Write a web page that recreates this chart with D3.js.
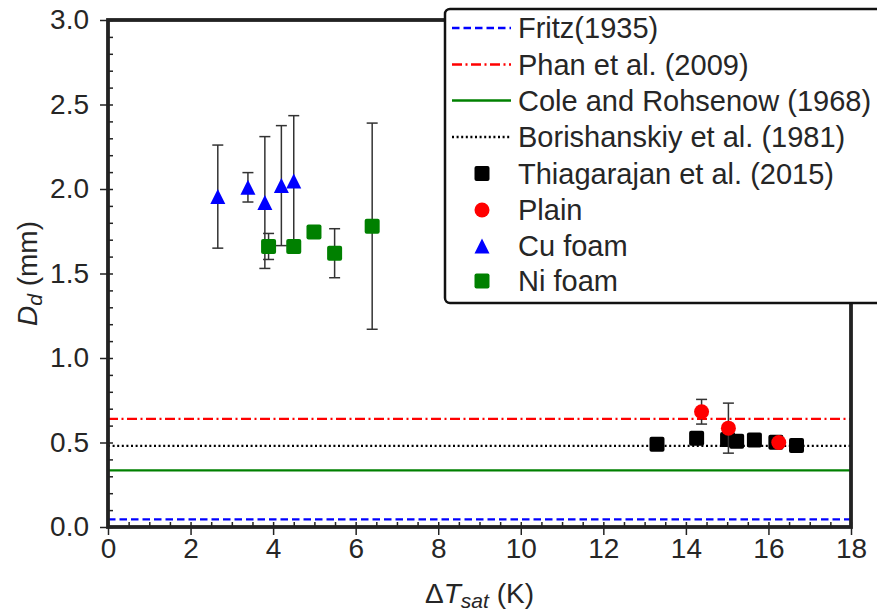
<!DOCTYPE html>
<html>
<head>
<meta charset="utf-8">
<script src="https://cdn.jsdelivr.net/npm/d3@7"></script>
<style>
  html, body { margin: 0; padding: 0; background: #fff; }
  svg text { font-family: "Liberation Sans", Arial, sans-serif; fill: #262626; }
</style>
</head>
<body>
<svg id="chart" width="877" height="612"></svg>
<script>
// Bubble departure diameter vs. wall superheat
const xTicks = [0, 2, 4, 6, 8, 10, 12, 14, 16, 18];
const yTicks = [0.0, 0.5, 1.0, 1.5, 2.0, 2.5, 3.0];

// Correlations (constant diameter, mm)
const corrNames = ["Fritz(1935)", "Phan et al. (2009)", "Cole and Rohsenow (1968)", "Borishanskiy et al. (1981)"];
const corrValues = [0.045, 0.64, 0.335, 0.48];

// Thiagarajan et al. (2015)
const thiaX = [13.3, 14.26, 15.01, 15.23, 15.66, 16.18, 16.68];
const thiaY = [0.49, 0.525, 0.518, 0.508, 0.515, 0.502, 0.482];

// Plain surface
const plainX = [14.38, 15.03, 16.25];
const plainY = [0.682, 0.585, 0.5];
const plainErr = [0.073, 0.148, 0.0];

// Cu foam
const cuX = [2.66, 3.39, 3.8, 4.2, 4.5];
const cuY = [1.955, 2.01, 1.92, 2.02, 2.047];
const cuErr = [0.305, 0.087, 0.39, 0.355, 0.387];

// Ni foam
const niX = [3.89, 4.5, 4.99, 5.49, 6.4];
const niY = [1.66, 1.66, 1.745, 1.62, 1.78];
const niErr = [0.077, 0.0, 0.0, 0.145, 0.61];

const svg = d3.select("#chart");
const plotL = 108, plotR = 851, plotT = 20, plotB = 527;
const x = d3.scaleLinear().domain([0, 18]).range([plotL, plotR]);
const y = d3.scaleLinear().domain([0, 3]).range([plotB, plotT]);
const ink = "#222";

// correlation lines
const corrColors = ["#0000ff", "#ff0000", "#008000", "#000000"];
const corrDash = ["7.5,4", "10,3.5,2,3.5", null, "2,2.6"];
const corrWidth = 2.3;
const gLines = svg.append("g");
corrValues.forEach((v, i) => {
  gLines.append("line")
    .attr("x1", x(0)).attr("x2", x(18))
    .attr("y1", y(v)).attr("y2", y(v))
    .attr("stroke", corrColors[i]).attr("stroke-width", corrWidth)
    .attr("stroke-dasharray", corrDash[i]);
});

// marker shapes
const M = 15;
function trianglePath(s) { const h = s / 2; return `M0,${-h}L${h},${h}L${-h},${h}Z`; }

function drawErr(g, xs, ys, es) {
  xs.forEach((xv, i) => {
    const e = es[i];
    if (!e) return;
    const px = x(xv), y1 = y(ys[i] + e), y2 = y(ys[i] - e);
    g.append("line").attr("x1", px).attr("x2", px).attr("y1", y1).attr("y2", y2)
      .attr("stroke", "#333").attr("stroke-width", 1.5);
    [y1, y2].forEach(yy => g.append("line")
      .attr("x1", px - 5.5).attr("x2", px + 5.5).attr("y1", yy).attr("y2", yy)
      .attr("stroke", "#333").attr("stroke-width", 1.5));
  });
}

function drawMarkers(g, xs, ys, kind, color) {
  xs.forEach((xv, i) => {
    const px = x(xv), py = y(ys[i]);
    if (kind === "circle") {
      g.append("circle").attr("cx", px).attr("cy", py).attr("r", M / 2).attr("fill", color);
    } else if (kind === "square") {
      g.append("rect").attr("x", px - M / 2).attr("y", py - M / 2)
        .attr("width", M).attr("height", M).attr("rx", 2).attr("fill", color);
    } else {
      g.append("path").attr("d", trianglePath(M)).attr("transform", `translate(${px},${py})`)
        .attr("fill", color);
    }
  });
}

const gData = svg.append("g");
drawMarkers(gData, thiaX, thiaY, "square", "#000000");
drawErr(gData, plainX, plainY, plainErr);
drawMarkers(gData, plainX, plainY, "circle", "#ff0000");
drawErr(gData, cuX, cuY, cuErr);
drawMarkers(gData, cuX, cuY, "triangle", "#0000ff");
drawErr(gData, niX, niY, niErr);
drawMarkers(gData, niX, niY, "square", "#008000");

// axes: outward labelled major ticks + inward minor ticks
const fontSize = 28;
const xAxis = svg.append("g").attr("transform", `translate(0,${plotB})`)
  .call(d3.axisBottom(x).tickValues(xTicks).tickSize(8).tickPadding(3).tickFormat(d3.format("d")));
const xMinor = svg.append("g").attr("transform", `translate(0,${plotB})`)
  .call(d3.axisTop(x).tickValues(d3.range(0, 18.01, 0.5)).tickSize(5).tickFormat(""));
const yAxis = svg.append("g").attr("transform", `translate(${plotL},0)`)
  .call(d3.axisLeft(y).tickValues(yTicks).tickSize(8).tickPadding(11).tickFormat(d3.format(".1f")));
const yMinor = svg.append("g").attr("transform", `translate(${plotL},0)`)
  .call(d3.axisRight(y).tickValues(d3.range(0, 3.001, 0.1)).tickSize(5).tickFormat(""));
[xAxis, xMinor, yAxis, yMinor].forEach(a => {
  a.select(".domain").remove();
  a.selectAll(".tick line").attr("stroke", ink).attr("stroke-width", 1.5);
  a.selectAll("text").attr("font-size", fontSize).attr("fill", "#262626")
    .attr("font-family", "Liberation Sans, Arial, sans-serif");
});

// frame
svg.append("rect").attr("x", plotL).attr("y", plotT)
  .attr("width", plotR - plotL).attr("height", plotB - plotT)
  .attr("fill", "none").attr("stroke", ink).attr("stroke-width", 3.8);

// axis titles
svg.append("text").attr("x", (plotL + plotR) / 2).attr("y", 603)
  .attr("text-anchor", "middle").attr("font-size", 28)
  .call(t => {
    t.append("tspan").text("Δ");
    t.append("tspan").attr("font-style", "italic").text("T");
    t.append("tspan").attr("font-style", "italic").attr("font-size", 21).attr("dy", 5).text("sat");
    t.append("tspan").attr("dy", -5).text(" (K)");
  });

svg.append("text").attr("transform", `translate(37,${(plotT + plotB) / 2}) rotate(-90)`)
  .attr("text-anchor", "middle").attr("font-size", 28)
  .call(t => {
    t.append("tspan").attr("font-style", "italic").text("D");
    t.append("tspan").attr("font-style", "italic").attr("font-size", 21).attr("dy", 5).text("d");
    t.append("tspan").attr("dy", -5).text(" (mm)");
  });

// legend
const lg = svg.append("g");
lg.append("rect").attr("x", 445).attr("y", 9).attr("width", 460).attr("height", 294)
  .attr("rx", 5).attr("fill", "#fff").attr("stroke", "#111").attr("stroke-width", 2.5);
const rowY = [28, 64.5, 100.5, 137, 173.5, 210, 246, 281];
const labels = corrNames.concat(["Thiagarajan et al. (2015)", "Plain", "Cu foam", "Ni foam"]);
const mKinds = ["square", "circle", "triangle", "square"];
const mColors = ["#000000", "#ff0000", "#0000ff", "#008000"];
labels.forEach((lab, i) => {
  const ry = rowY[i];
  if (i < 4) {
    lg.append("line").attr("x1", 452).attr("x2", 511).attr("y1", ry).attr("y2", ry)
      .attr("stroke", corrColors[i]).attr("stroke-width", corrWidth)
      .attr("stroke-dasharray", corrDash[i]);
  } else {
    const k = mKinds[i - 4], c = mColors[i - 4];
    if (k === "circle") lg.append("circle").attr("cx", 482).attr("cy", ry).attr("r", M / 2).attr("fill", c);
    else if (k === "square") lg.append("rect").attr("x", 482 - M / 2).attr("y", ry - M / 2)
      .attr("width", M).attr("height", M).attr("rx", 2).attr("fill", c);
    else lg.append("path").attr("d", trianglePath(M)).attr("transform", `translate(482,${ry})`).attr("fill", c);
  }
  lg.append("text").attr("x", 518).attr("y", ry).attr("dy", "0.36em")
    .attr("font-size", 29).text(lab);
});
</script>
</body>
</html>
